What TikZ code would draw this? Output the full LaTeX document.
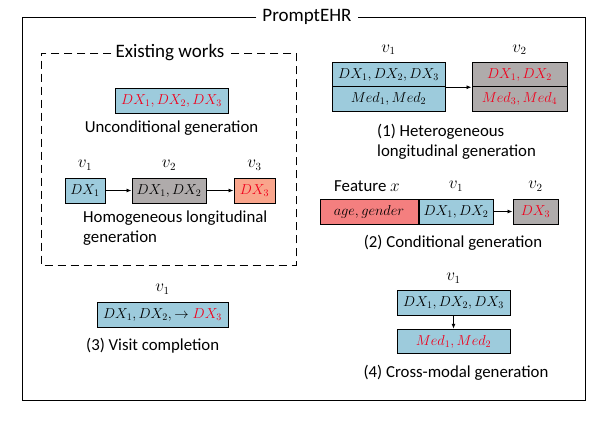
\documentclass[tikz,border=0pt]{standalone}
\usepackage{fontspec}
\setmainfont{Carlito}
\usetikzlibrary{arrows.meta}
\definecolor{lblue}{HTML}{9DCBDC}
\definecolor{lgray}{HTML}{AFABAB}
\definecolor{salmon}{HTML}{F9A58C}
\definecolor{pinkred}{HTML}{F47F7F}
\definecolor{redtxt}{HTML}{F0001C}
\tikzset{
  box/.style={draw, line width=1pt, inner sep=0pt, font=\fontsize{14}{16}\selectfont},
  lbl/.style={font=\fontsize{16.8}{20}\selectfont, inner sep=0pt},
  ttl/.style={font=\fontsize{19}{22}\selectfont},
  vlbl/.style={font=\fontsize{16}{18}\selectfont, inner sep=0pt},
  arr/.style={-{Latex[length=5pt,width=4pt]}, line width=0.8pt},
}
\newcommand{\rd}[1]{\textcolor{redtxt}{#1}}
\begin{document}
\begin{tikzpicture}[x=1pt,y=-1pt]
\useasboundingbox (0,0) rectangle (611,424);
% outer frame
\node[ttl, inner sep=0pt] (title) at (307,17) {PromptEHR};
\draw[line width=1pt] (title.west) ++(-6,0) -| (22,400) -| (585,17) -- ([xshift=6pt]title.east);
% dashed box
\node[ttl, fill=white, inner sep=4pt] (ex) at (170,53) {Existing works};
\draw[line width=1pt, dash pattern=on 8pt off 5pt] (ex.west) -| (41,265) -| (296,53) -- (ex.east);
% unconditional
\node[box, fill=lblue, minimum width=113pt, minimum height=25pt] (u) at (171.5,100.5) {$\rd{DX_1,DX_2,DX_3}$};
\node[lbl] (ul) at (171.5,128) {Unconditional generation};
% homogeneous
\node[box, fill=lblue, minimum width=40pt, minimum height=25pt] (h1) at (85,190.5) {$DX_1$};
\node[box, fill=lgray, minimum width=74pt, minimum height=25pt] (h2) at (169,190.5) {$DX_1,DX_2$};
\node[box, fill=salmon, minimum width=41pt, minimum height=25pt] (h3) at (254.5,190.5) {$\rd{DX_3}$};
\node[vlbl] (hv1) at (h1.north) [yshift=12pt] {$v_1$};
\node[vlbl] (hv2) at (h2.north) [yshift=12pt] {$v_2$};
\node[vlbl] (hv3) at (h3.north) [yshift=12pt] {$v_3$};
\draw[arr] (h1) -- (h2);
\draw[arr] (h2) -- (h3);
\node[lbl, anchor=west, align=left] (hl) at (83,228.5) {Homogeneous longitudinal\\generation};
% heterogeneous
\node[box, fill=lblue, minimum width=113pt, minimum height=24.5pt] (a1) at (388.5,74.5) {$DX_1,DX_2,DX_3$};
\node[box, fill=lblue, minimum width=113pt, minimum height=24.5pt] (a2) at (388.5,99) {$Med_1,Med_2$};
\node[box, fill=lgray, minimum width=95pt, minimum height=24.5pt] (b1) at (519.5,74.5) {$\rd{DX_1,DX_2}$};
\node[box, fill=lgray, minimum width=95pt, minimum height=24.5pt] (b2) at (519.5,99) {$\rd{Med_3,Med_4}$};
\node[vlbl] (av1) at (a1.north) [yshift=12pt] {$v_1$};
\node[vlbl] (bv2) at (b1.north) [yshift=12pt] {$v_2$};
\draw[arr] (a1.south east) -- (b1.south west);
\node[lbl, anchor=west, align=left] (al) at (377,142) {(1) Heterogeneous\\longitudinal generation};
% conditional
\node[box, fill=pinkred, minimum width=98pt, minimum height=25pt] (c0) at (369,211.5) {$age,gender$};
\node[box, fill=lblue, minimum width=74pt, minimum height=25pt, anchor=west] (c1) at (c0.east) {$DX_1,DX_2$};
\node[box, fill=lgray, minimum width=45pt, minimum height=25pt] (c2) at (535.5,211.5) {$\rd{DX_3}$};
\node[lbl] (cf) at (367,186) {Feature $x$};
\node[vlbl] (cv1) at (c1.north) [yshift=12pt] {$v_1$};
\node[vlbl] (cv2) at (c2.north) [yshift=12pt] {$v_2$};
\draw[arr] (c1) -- (c2);
\node[lbl] (cl) at (453,243) {(2) Conditional generation};
% visit completion
\node[box, fill=lblue, minimum width=131pt, minimum height=25pt] (vc) at (162.5,314.5) {$DX_1,DX_2,\rightarrow \rd{DX_3}$};
\node[vlbl] (vv1) at (vc.north) [yshift=12pt] {$v_1$};
\node[lbl, anchor=west] (vl) at (86,346) {(3) Visit completion};
% cross-modal
\node[box, fill=lblue, minimum width=113pt, minimum height=24.5pt] (m1) at (453.5,303) {$DX_1,DX_2,DX_3$};
\node[box, fill=lblue, minimum width=113pt, minimum height=24.5pt] (m2) at (453.5,341.5) {$\rd{Med_1,Med_2}$};
\node[vlbl] (mv1) at (m1.north) [yshift=12pt] {$v_1$};
\draw[arr] (m1) -- (m2);
\node[lbl] (ml) at (456,373) {(4) Cross-modal generation};
\end{tikzpicture}
\end{document}
